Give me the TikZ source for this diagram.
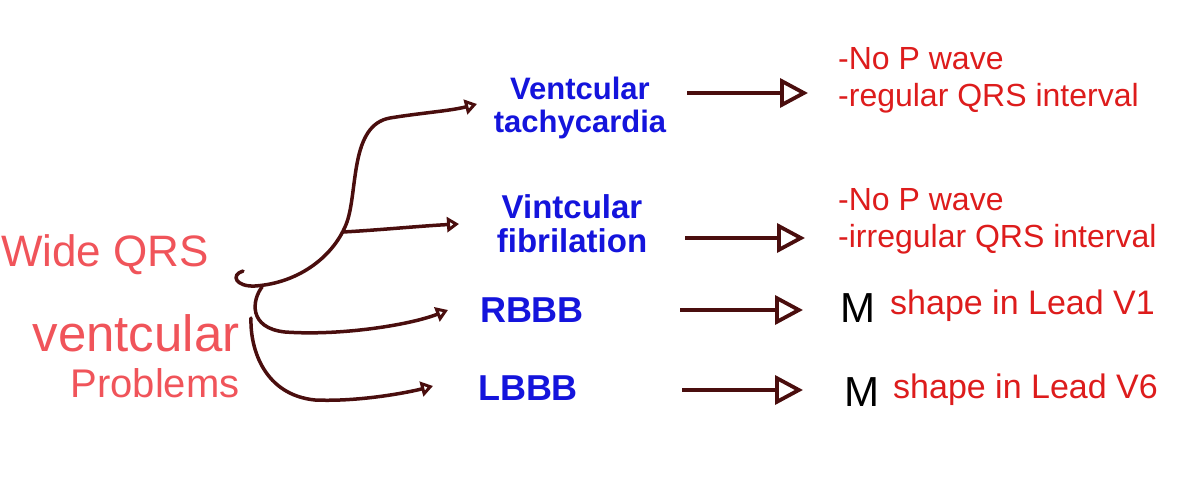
\documentclass[tikz,border=0pt]{standalone}
\usepackage{fontspec}
\setmainfont{Liberation Sans}
\usetikzlibrary{arrows.meta}
\definecolor{blu}{HTML}{1414DC}
\definecolor{rdr}{HTML}{DD1C1C}
\definecolor{rdl}{HTML}{F0545A}
\definecolor{brn}{HTML}{4A0E0E}
\tikzset{
  lefttxt/.style={text=rdl, inner sep=0pt, align=right},
  bluetxt/.style={text=blu, inner sep=0pt, align=center, font=\bfseries\fontsize{31}{33}\selectfont},
  bluebig/.style={text=blu, inner sep=0pt, font=\bfseries\fontsize{36}{38}\selectfont},
  redtxt/.style={text=rdr, inner sep=0pt, align=left, font=\fontsize{32}{37}\selectfont},
  mtxt/.style={text=black, inner sep=0pt, font=\fontsize{42}{44}\selectfont},
  bigarrow/.style={draw=brn, line width=3.8pt, -{Triangle[open,length=28pt,width=29pt]}},
  curvearrow/.style={draw=brn, line width=3.5pt, line cap=round, -{Triangle[open,length=12pt,width=15pt]}}
}
\begin{document}
\begin{tikzpicture}[x=1pt,y=-1pt]
\useasboundingbox (0,0) rectangle (1200,489);
% left labels
\node[lefttxt, font=\fontsize{44}{48}\selectfont] (wide) at (105,255) {Wide QRS};
\node[lefttxt, font=\fontsize{51}{46}\selectfont] (vp) at (136,356) {ventcular\\[0pt]{\fontsize{40}{46}\selectfont Problems}};
% middle labels
\node[bluetxt] (vt) at (580,108) {Ventcular\\tachycardia};
\node[bluetxt, font=\bfseries\fontsize{33}{34}\selectfont] (vf) at (572,224) {Vintcular\\fibrilation};
\node[bluebig] (rbbb) at (532,310) {RBBB};
\node[bluebig] (lbbb) at (528,388) {LBBB};
% right labels
\node[redtxt, anchor=west] (d1) at (838,80) {-No P wave\\-regular QRS interval};
\node[redtxt, anchor=west] (d2) at (838,221) {-No P wave\\-irregular QRS interval};
\node[mtxt] (m1) at (858,308) {M};
\node[redtxt, anchor=west, font=\fontsize{34}{37}\selectfont] (d3) at (890,306) {shape in Lead V1};
\node[mtxt] (m2) at (862,392) {M};
\node[redtxt, anchor=west, font=\fontsize{34}{37}\selectfont] (d4) at (893,390) {shape in Lead V6};
% coordinates
\coordinate (hook) at (243,271);
\coordinate (b2) at (343,232);
\coordinate (b3) at (262,287);
\coordinate (b4) at (251,318);
\coordinate (e1) at (477,104);
\coordinate (e2) at (459,224);
\coordinate (e3) at (448,310);
\coordinate (e4) at (433,386);
\coordinate (r1s) at (687,93);  \coordinate (r1e) at (808,93);
\coordinate (r2s) at (685,238); \coordinate (r2e) at (805,238);
\coordinate (r3s) at (680,310); \coordinate (r3e) at (803,310);
\coordinate (r4s) at (682,390); \coordinate (r4e) at (803,390);
% curved connectors
\draw[curvearrow] (hook) .. controls (230,275) and (236,287) .. (255,286)
  .. controls (300,283) and (335,255) .. (347,222)
  .. controls (358,190) and (350,125) .. (390,118)
  .. controls (420,113) and (450,111) .. (e1);
\draw[curvearrow] (b2) .. controls (380,230) and (420,226) .. (e2);
\draw[curvearrow] (b3) .. controls (252,300) and (248,328) .. (285,332)
  .. controls (340,336) and (410,325) .. (e3);
\draw[curvearrow] (b4) .. controls (250,350) and (265,395) .. (315,400)
  .. controls (360,402) and (410,392) .. (e4);
% straight arrows
\draw[bigarrow] (r1s) -- (r1e);
\draw[bigarrow] (r2s) -- (r2e);
\draw[bigarrow] (r3s) -- (r3e);
\draw[bigarrow] (r4s) -- (r4e);
\end{tikzpicture}
\end{document}
